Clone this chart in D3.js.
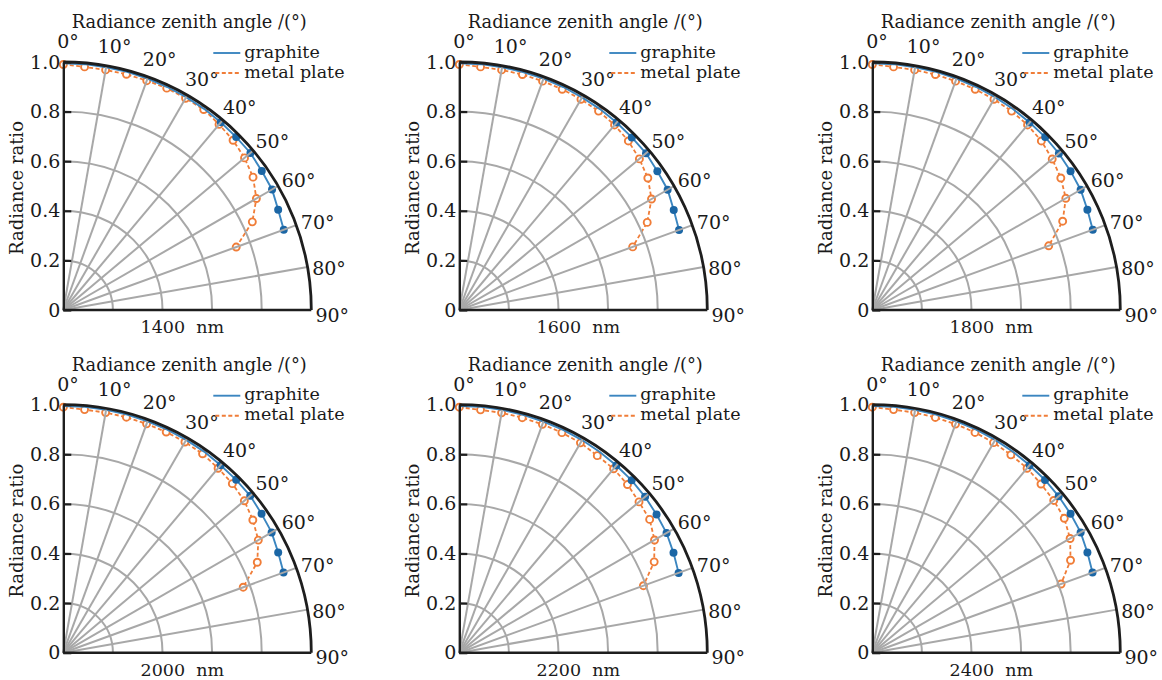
<!DOCTYPE html>
<html>
<head>
<meta charset="utf-8">
<script src="https://cdn.jsdelivr.net/npm/d3@7"></script>
<style>
  body { margin: 0; background: #fff; }
  svg { display: block; font-family: "DejaVu Serif", serif; }
</style>
</head>
<body>
<div id="chart"></div>
<script>
// Zenith angles (degrees) of the measured points.
const angles = [0, 5, 10, 15, 20, 25, 30, 35, 40, 45, 50, 55, 60, 65, 70]
const wavelengths = ["1400", "1600", "1800", "2000", "2200", "2400"]
const radialTicks = [0, 0.2, 0.4, 0.6, 0.8, 1.0]
const radialTickLabels = ["0", "0.2", "0.4", "0.6", "0.8", "1.0"]
const angleTicks = [0, 10, 20, 30, 40, 50, 60, 70, 80, 90]
const seriesNames = ["graphite", "metal plate"]

// Radiance ratio of graphite, one row per wavelength.
const graphite1400 = [0.995, 0.995, 0.994, 0.994, 0.993, 0.992, 0.991, 0.990, 0.988, 0.986, 0.985, 0.977, 0.972, 0.956, 0.946]
const graphite1600 = [0.995, 0.995, 0.994, 0.993, 0.993, 0.992, 0.990, 0.989, 0.987, 0.984, 0.983, 0.975, 0.970, 0.954, 0.943]
const graphite1800 = [0.995, 0.995, 0.994, 0.994, 0.993, 0.992, 0.991, 0.989, 0.987, 0.986, 0.982, 0.976, 0.970, 0.957, 0.946]
const graphite2000 = [0.995, 0.995, 0.994, 0.994, 0.993, 0.992, 0.991, 0.990, 0.987, 0.986, 0.984, 0.976, 0.970, 0.956, 0.945]
const graphite2200 = [0.995, 0.995, 0.994, 0.993, 0.992, 0.991, 0.990, 0.988, 0.985, 0.983, 0.978, 0.971, 0.965, 0.953, 0.941]
const graphite2400 = [0.995, 0.995, 0.994, 0.994, 0.993, 0.992, 0.991, 0.989, 0.987, 0.985, 0.981, 0.976, 0.970, 0.957, 0.945]

// Radiance ratio of the metal plate, one row per wavelength.
const metal1400 = [0.990, 0.984, 0.983, 0.984, 0.984, 0.987, 0.986, 0.987, 0.977, 0.968, 0.954, 0.934, 0.899, 0.841, 0.742]
const metal1600 = [0.990, 0.984, 0.983, 0.983, 0.982, 0.982, 0.981, 0.979, 0.974, 0.964, 0.948, 0.928, 0.895, 0.836, 0.744]
const metal1800 = [0.990, 0.984, 0.983, 0.983, 0.982, 0.982, 0.981, 0.979, 0.974, 0.964, 0.947, 0.928, 0.901, 0.847, 0.757]
const metal2000 = [0.990, 0.984, 0.983, 0.983, 0.982, 0.982, 0.981, 0.979, 0.971, 0.964, 0.953, 0.933, 0.908, 0.863, 0.772]
const metal2200 = [0.990, 0.983, 0.982, 0.981, 0.980, 0.979, 0.977, 0.970, 0.968, 0.959, 0.946, 0.937, 0.909, 0.867, 0.790]
const metal2400 = [0.990, 0.984, 0.983, 0.982, 0.981, 0.980, 0.978, 0.974, 0.971, 0.962, 0.955, 0.945, 0.921, 0.882, 0.810]

const graphiteSeries = [graphite1400, graphite1600, graphite1800, graphite2000, graphite2200, graphite2400]
const metalSeries = [metal1400, metal1600, metal1800, metal2000, metal2200, metal2400]

// graphite markers are only drawn from this angle on
const graphiteMarkerFrom = 40

const width = 1162
const height = 680
const radius = 248
const originsX = [63.3, 459.3, 872.3]
const originsY = [310, 652.7]
const colours = {graphite: "#3b86c0", graphiteDot: "#1b66a5", metal: "#f07d38", grid: "#a8a8a8", axis: "#1e1e1e", text: "#1a1a1a"}

const svg = d3.select("#chart")
  .append("svg")
  .attr("width", width)
  .attr("height", height)

const rScale = d3.scaleLinear().domain([0, 1]).range([0, radius])
const aScale = d3.scaleLinear().domain([0, 90]).range([0, Math.PI / 2])

const px = (a, r) => r * Math.sin(aScale(a))
const py = (a, r) => -r * Math.cos(aScale(a))

/**
 * Draws one quarter polar panel with its origin at (cx, cy).
 */
const drawPanel = (cx, cy, wavelength, graphite, metal) => {
  const g = svg.append("g").attr("transform", "translate(" + cx + "," + cy + ")")

  const line = d3.lineRadial()
    .angle((d, i) => aScale(angles[i]))
    .radius(d => rScale(d))

  // data first, the grid is drawn over it like in the original
  g.append("path")
    .datum(metal)
    .attr("d", line)
    .attr("fill", "none")
    .attr("stroke", colours.metal)
    .attr("stroke-width", 1.8)
    .attr("stroke-dasharray", "4,2.5")
  g.selectAll(".metalDot")
    .data(metal)
    .enter().append("circle")
    .attr("cx", (d, i) => px(angles[i], rScale(d)))
    .attr("cy", (d, i) => py(angles[i], rScale(d)))
    .attr("r", 3.5)
    .attr("fill", "#fff")
    .attr("stroke", colours.metal)
    .attr("stroke-width", 1.9)

  g.append("path")
    .datum(graphite)
    .attr("d", line)
    .attr("fill", "none")
    .attr("stroke", colours.graphite)
    .attr("stroke-width", 1.9)
  g.selectAll(".graphiteDot")
    .data(graphite.map((d, i) => ({a: angles[i], r: d})).filter(d => d.a >= graphiteMarkerFrom))
    .enter().append("circle")
    .attr("cx", d => px(d.a, rScale(d.r)))
    .attr("cy", d => py(d.a, rScale(d.r)))
    .attr("r", 4)
    .attr("fill", colours.graphiteDot)

  // grid circles
  g.selectAll(".ring")
    .data(radialTicks.slice(1, -1))
    .enter().append("path")
    .attr("d", d => d3.arc()({innerRadius: rScale(d), outerRadius: rScale(d), startAngle: 0, endAngle: Math.PI / 2}))
    .attr("fill", "none")
    .attr("stroke", colours.grid)
    .attr("stroke-width", 2)

  // radial grid lines
  g.selectAll(".spoke")
    .data(angleTicks.slice(1, -1))
    .enter().append("line")
    .attr("x1", 0).attr("y1", 0)
    .attr("x2", d => px(d, radius))
    .attr("y2", d => py(d, radius))
    .attr("stroke", colours.grid)
    .attr("stroke-width", 2)

  // outer arc and the two straight axes
  g.append("path")
    .attr("d", d3.arc()({innerRadius: radius, outerRadius: radius, startAngle: 0, endAngle: Math.PI / 2}))
    .attr("fill", "none")
    .attr("stroke", colours.axis)
    .attr("stroke-width", 2.8)
  g.append("line")
    .attr("x1", 0).attr("y1", 0)
    .attr("x2", radius).attr("y2", 0)
    .attr("stroke", colours.axis)
    .attr("stroke-width", 2.4)

  const yScale = d3.scaleLinear().domain([0, 1]).range([0, -radius])
  const yAxis = d3.axisLeft(yScale)
    .tickValues(radialTicks)
    .tickFormat((d, i) => radialTickLabels[i])
    .tickSizeInner(-8)
    .tickSizeOuter(0)
    .tickPadding(3)
  const ya = g.append("g").call(yAxis)
  ya.select(".domain").attr("stroke", colours.axis).attr("stroke-width", 2.4)
  ya.selectAll(".tick line").attr("stroke", colours.axis).attr("stroke-width", 2.2)
  ya.selectAll(".tick text")
    .attr("font-family", "DejaVu Serif")
    .attr("font-size", 19)
    .attr("fill", colours.text)

  // angle labels around the arc
  g.selectAll(".angleLabel")
    .data(angleTicks)
    .enter().append("text")
    .attr("x", d => px(d + 1, radius + 21))
    .attr("y", d => py(d + 1, radius + 21))
    .attr("text-anchor", "middle")
    .attr("dominant-baseline", "central")
    .attr("font-size", 19)
    .attr("fill", colours.text)
    .text(d => d + "°")

  // titles
  g.append("text")
    .attr("x", radius / 2 + 2)
    .attr("y", -282)
    .attr("text-anchor", "middle")
    .attr("font-size", 17.8)
    .attr("fill", colours.text)
    .text("Radiance zenith angle /(°)")
  g.append("text")
    .attr("transform", "translate(-40," + (-radius / 2 + 2) + ") rotate(-90)")
    .attr("text-anchor", "middle")
    .attr("font-size", 18)
    .attr("fill", colours.text)
    .text("Radiance ratio")
  g.append("text")
    .attr("x", 119)
    .attr("y", 23)
    .attr("text-anchor", "middle")
    .attr("font-size", 17.5)
    .attr("fill", colours.text)
    .style("white-space", "pre")
    .text(wavelength + "  nm")

  // legend
  const legend = g.append("g").attr("transform", "translate(150," + (-257) + ")")
  for (let i = 0; i < seriesNames.length; i++) {
    const row = legend.append("g").attr("transform", "translate(0," + (i * 20) + ")")
    row.append("line")
      .attr("x1", i === 0 ? 0 : 2).attr("x2", 27)
      .attr("y1", 0).attr("y2", 0)
      .attr("stroke", i === 0 ? colours.graphite : colours.metal)
      .attr("stroke-width", 1.9)
      .attr("stroke-dasharray", i === 0 ? null : "4,2.5")
    row.append("text")
      .attr("x", 31)
      .attr("y", 4.5)
      .attr("font-size", 17.5)
      .attr("fill", colours.text)
      .text(seriesNames[i])
  }
}

for (let k = 0; k < wavelengths.length; k++) {
  drawPanel(originsX[k % 3], originsY[Math.floor(k / 3)], wavelengths[k], graphiteSeries[k], metalSeries[k])
}
</script>
</body>
</html>
